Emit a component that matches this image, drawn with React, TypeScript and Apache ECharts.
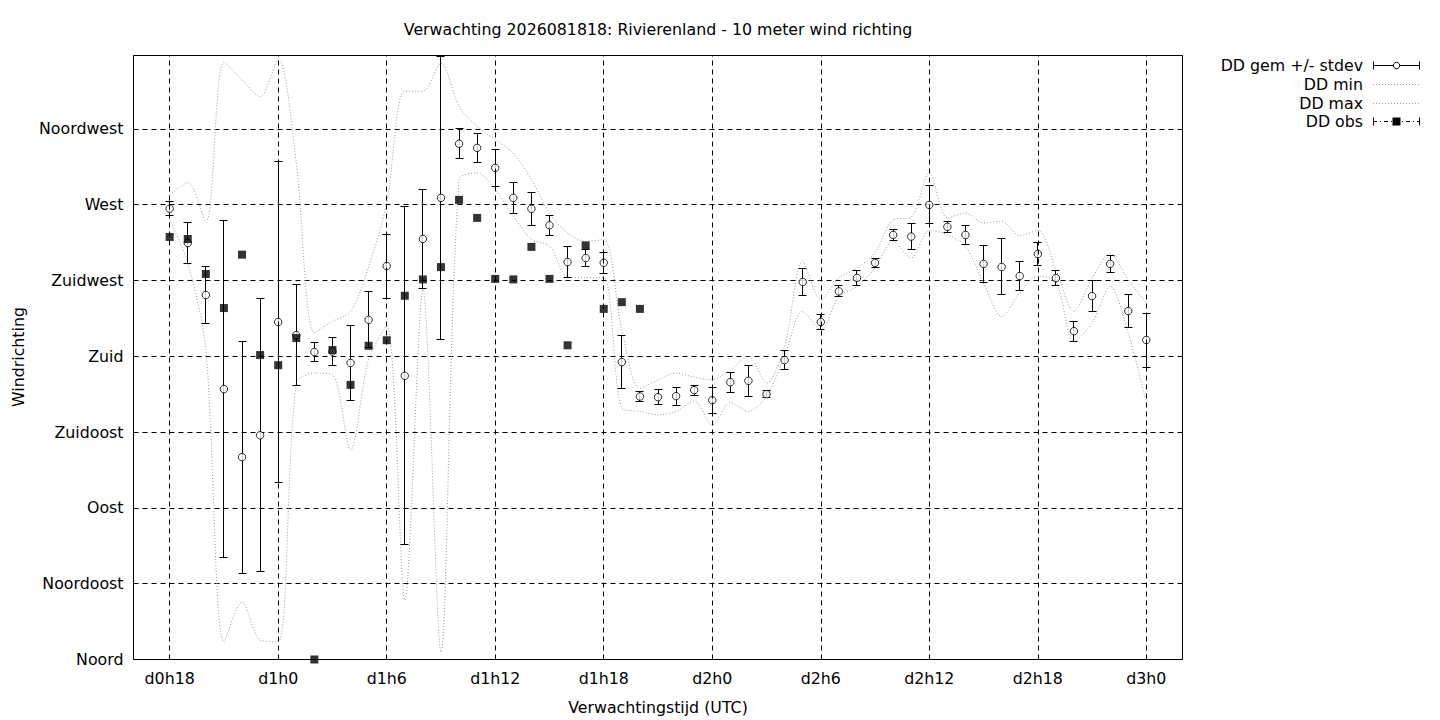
import React, { useEffect, useRef } from "react";
import * as echarts from "echarts";

// Forecast hours (hours after d0h0)
const HOURS = [
  18, 19, 20, 21, 22, 23, 24, 25, 26, 27, 28, 29, 30, 31, 32, 33, 34, 35, 36,
  37, 38, 39, 40, 41, 42, 43, 44, 45, 46, 47, 48, 49, 50, 51, 52, 53, 54, 55,
  56, 57, 58, 59, 60, 61, 62, 63, 64, 65, 66, 67, 68, 69, 70, 71, 72,
];

// Ensemble mean wind direction (degrees)
const DD_MEAN = [
  267.6, 247.2, 216.3, 160.5, 120.1, 133.1, 200.3, 192.5, 182.5, 182.8, 176.0,
  201.6, 233.5, 168.4, 249.6, 274.0, 306.1, 303.7, 291.8, 274.0, 267.5, 257.7,
  235.9, 238.3, 235.5, 176.5, 156.1, 155.7, 156.3, 159.9, 153.9, 164.6, 165.4,
  157.5, 177.7, 224.1, 200.3, 218.5, 226.5, 235.4, 252.0, 251.0, 269.8, 256.8,
  252.0, 234.8, 233.0, 227.6, 240.7, 226.4, 194.9, 215.7, 234.8, 206.8, 189.6,
];

// Ensemble standard deviation (degrees)
const DD_STDEV = [
  4.0, 11.9, 17.0, 100.2, 68.9, 80.9, 95.1, 30.0, 5.6, 8.2, 22.0, 16.7, 19.0,
  100.4, 29.2, 83.8, 9.0, 8.6, 11.2, 9.4, 9.9, 6.0, 9.4, 5.1, 6.3, 15.8, 2.8,
  4.5, 5.4, 3.0, 7.8, 6.0, 9.3, 1.9, 5.6, 7.8, 4.5, 3.3, 4.3, 2.9, 3.5, 7.5,
  11.3, 3.4, 5.8, 10.9, 16.6, 8.8, 7.1, 4.5, 5.9, 9.1, 5.0, 9.7, 16.0,
];

// Ensemble minimum direction
const DD_MIN = [
  261.0, 235.4, 184.0, 10.5, 34.2, 11.5, 10.5, 164.0, 170.0, 169.0, 124.4,
  178.0, 198.0, 35.2, 219.5, 4.5, 284.9, 288.8, 279.0, 263.2, 249.4, 245.4,
  227.2, 226.6, 226.6, 149.2, 147.2, 145.2, 147.2, 153.5, 139.3, 152.5, 147.2,
  156.1, 179.9, 206.6, 195.9, 215.5, 221.4, 232.4, 248.2, 238.3, 254.6, 252.2,
  245.2, 223.5, 203.6, 217.5, 227.4, 224.4, 188.8, 199.7, 221.5, 193.8, 152.2,
];

// Ensemble maximum direction
const DD_MAX = [
  276.0, 283.0, 259.5, 354.6, 344.0, 334.0, 356.6, 295.0, 194.0, 200.7, 206.6,
  233.0, 271.0, 337.4, 337.4, 354.0, 328.4, 316.5, 308.6, 300.6, 284.9, 265.1,
  253.2, 248.2, 249.2, 195.7, 161.0, 166.0, 170.0, 167.6, 166.0, 172.0, 179.9,
  164.0, 185.8, 236.3, 213.5, 226.5, 232.4, 241.3, 261.1, 262.5, 288.9, 262.1,
  265.0, 259.1, 260.1, 251.6, 254.7, 231.4, 206.6, 226.4, 240.9, 225.4, 211.6,
];

// Observations (hours 18..44)
const OBS_HOURS = [
  18, 19, 20, 21, 22, 23, 24, 25, 26, 27, 28, 29, 30, 31, 32, 33, 34, 35, 36,
  37, 38, 39, 40, 41, 42, 43, 44,
];
const DD_OBS = [
  250.8, 249.6, 228.8, 208.6, 240.3, 180.7, 174.7, 190.8, 0.0, 183.7, 163.0,
  186.2, 189.5, 215.9, 225.6, 232.9, 272.8, 262.1, 225.9, 225.6, 244.9, 225.9,
  186.5, 245.8, 208.1, 212.1, 208.1,
];

// Axis ticks
const X_GRID_HOURS = [18, 24, 30, 36, 42, 48, 54, 60, 66, 72];
const DIR_TICKS = [0, 45, 90, 135, 180, 225, 270, 315];
const DIR_LABELS = [
  "Noord",
  "Noordoost",
  "Oost",
  "Zuidoost",
  "Zuid",
  "Zuidwest",
  "West",
  "Noordwest",
];

const TITLE = "Verwachting 2026081818: Rivierenland - 10 meter wind richting";
const X_NAME = "Verwachtingstijd (UTC)";
const Y_NAME = "Windrichting";
const LEGEND_NAMES = ["DD gem +/- stdev", "DD min", "DD max", "DD obs"];

const X_MIN = 16;
const X_MAX = 74;
const Y_MIN = 0;
const Y_MAX = 358.5;

const FONT = "DejaVu Sans";
const FS = 15.8;

export default function App() {
  const ref = useRef<HTMLDivElement>(null);

  useEffect(() => {
    if (!ref.current) return;
    const chart = echarts.init(ref.current, undefined, { renderer: "svg" });

    const meanData = HOURS.map((h, i) => [h, DD_MEAN[i]]);
    const errData = HOURS.map((h, i) => [
      h,
      DD_MEAN[i] - DD_STDEV[i],
      DD_MEAN[i] + DD_STDEV[i],
    ]);
    const minData = HOURS.map((h, i) => [h, DD_MIN[i]]);
    const maxData = HOURS.map((h, i) => [h, DD_MAX[i]]);
    const obsData = OBS_HOURS.map((h, i) => [h, DD_OBS[i]]);

    const dirLabel = (v: number) => {
      const idx = DIR_TICKS.indexOf(Math.round(v));
      return idx >= 0 && Math.abs(v - DIR_TICKS[idx]) < 1e-6 ? DIR_LABELS[idx] : "";
    };
    const hourLabel = (v: number) => {
      if (X_GRID_HOURS.indexOf(v) < 0) return "";
      return "d" + Math.floor(v / 24) + "h" + (v % 24);
    };

    const dotted = { color: "#9a9a9a", width: 1, type: [1, 2] as any };

    const legendX0 = 1373;
    const legendX1 = 1420;
    const legendXm = 1396.5;
    const rowY = [65.5, 84.5, 103.5, 121.5];

    const gl = 133.5;
    const gt = 55.5;
    const gr = 1182.5;
    const gb = 659.5;

    const crisp = (v: number) => Math.round(v - 0.5) + 0.5;

    const option: any = {
      animation: false,
      backgroundColor: "#ffffff",
      textStyle: { fontFamily: FONT },
      grid: {
        left: gl,
        top: gt,
        right: 1440 - gr,
        bottom: 720 - gb,
        show: false,
      },
      xAxis: {
        type: "value",
        min: X_MIN,
        max: X_MAX,
        interval: 2,
        axisLine: { show: false },
        axisTick: { show: false },
        splitLine: { show: false },
        axisLabel: {
          interval: 0,
          margin: 11,
          color: "#000",
          fontFamily: FONT,
          fontSize: FS,
          formatter: hourLabel,
        },
      },
      yAxis: {
        type: "value",
        min: Y_MIN,
        max: Y_MAX,
        interval: 45,
        axisLine: { show: false },
        axisTick: { show: false },
        splitLine: {
          show: true,
          lineStyle: { color: "#000", width: 1, type: [5, 4] },
        },
        axisLabel: {
          margin: 10,
          color: "#000",
          fontFamily: FONT,
          fontSize: FS,
          formatter: dirLabel,
          showMaxLabel: false,
        },
      },
      graphic: [
        {
          type: "rect",
          z: 100,
          silent: true,
          shape: { x: gl, y: gt, width: gr - gl, height: gb - gt },
          style: { fill: "none", stroke: "#000", lineWidth: 1 },
        },
        {
          type: "text",
          x: 658,
          y: 29,
          style: {
            text: TITLE,
            fill: "#000",
            font: `${FS}px "${FONT}"`,
            textAlign: "center",
            textVerticalAlign: "middle",
          },
        },
        {
          type: "text",
          x: 658,
          y: 707,
          style: {
            text: X_NAME,
            fill: "#000",
            font: `${FS}px "${FONT}"`,
            textAlign: "center",
            textVerticalAlign: "middle",
          },
        },
        {
          type: "text",
          x: 18,
          y: 357,
          rotation: Math.PI / 2,
          style: {
            text: Y_NAME,
            fill: "#000",
            font: `${FS}px "${FONT}"`,
            textAlign: "center",
            textVerticalAlign: "middle",
          },
        },
        // Legend texts
        ...LEGEND_NAMES.map((n, i) => ({
          type: "text",
          x: 1363,
          y: rowY[i],
          style: {
            text: n,
            fill: "#000",
            font: `${FS}px "${FONT}"`,
            textAlign: "right",
            textVerticalAlign: "middle",
          },
        })),
        // Legend sample: mean +/- stdev
        {
          type: "line",
          shape: { x1: legendX0, y1: rowY[0], x2: legendX1, y2: rowY[0] },
          style: { stroke: "#000", lineWidth: 1 },
        },
        {
          type: "line",
          shape: { x1: legendX0 + 0.5, y1: rowY[0] - 4, x2: legendX0 + 0.5, y2: rowY[0] + 4 },
          style: { stroke: "#000", lineWidth: 1 },
        },
        {
          type: "line",
          shape: { x1: legendX1 - 0.5, y1: rowY[0] - 4, x2: legendX1 - 0.5, y2: rowY[0] + 4 },
          style: { stroke: "#000", lineWidth: 1 },
        },
        {
          type: "circle",
          shape: { cx: legendXm, cy: rowY[0], r: 3.2 },
          style: { fill: "#fff", stroke: "#000", lineWidth: 1 },
        },
        // Legend sample: min, max
        {
          type: "line",
          shape: { x1: legendX0, y1: rowY[1], x2: legendX1, y2: rowY[1] },
          style: { stroke: "#9a9a9a", lineWidth: 1, lineDash: [1, 2] },
        },
        {
          type: "line",
          shape: { x1: legendX0, y1: rowY[2], x2: legendX1, y2: rowY[2] },
          style: { stroke: "#9a9a9a", lineWidth: 1, lineDash: [1, 2] },
        },
        // Legend sample: obs
        {
          type: "line",
          shape: { x1: legendX0, y1: rowY[3], x2: legendX1, y2: rowY[3] },
          style: { stroke: "#000", lineWidth: 1, lineDash: [4, 3, 1, 3] },
        },
        {
          type: "line",
          shape: { x1: legendX0 + 0.5, y1: rowY[3] - 4, x2: legendX0 + 0.5, y2: rowY[3] + 4 },
          style: { stroke: "#000", lineWidth: 1 },
        },
        {
          type: "line",
          shape: { x1: legendX1 - 0.5, y1: rowY[3] - 4, x2: legendX1 - 0.5, y2: rowY[3] + 4 },
          style: { stroke: "#000", lineWidth: 1 },
        },
        {
          type: "rect",
          shape: { x: legendXm - 4, y: rowY[3] - 4, width: 8, height: 8 },
          style: { fill: "#000" },
        },
      ],
      series: [
        {
          name: "DD min",
          type: "line",
          data: minData,
          showSymbol: false,
          symbol: "none",
          smooth: 0.3,
          lineStyle: dotted,
          z: 1,
          markLine: {
            silent: true,
            symbol: "none",
            label: { show: false },
            lineStyle: { color: "#000", width: 1, type: [5, 4] },
            data: X_GRID_HOURS.map((h) => ({ xAxis: h })),
          },
        },
        {
          name: "DD max",
          type: "line",
          data: maxData,
          showSymbol: false,
          symbol: "none",
          smooth: 0.3,
          lineStyle: dotted,
          z: 1,
        },
        {
          name: "DD stdev",
          type: "custom",
          data: errData,
          z: 3,
          renderItem: (params: any, api: any) => {
            const x = api.value(0);
            const lo = Math.max(api.value(1), Y_MIN);
            const hi = Math.min(api.value(2), Y_MAX);
            const pLo = api.coord([x, lo]);
            const pHi = api.coord([x, hi]);
            const cx = crisp(pLo[0]);
            const yLo = crisp(pLo[1]);
            const yHi = crisp(pHi[1]);
            const w = 4;
            const st = { stroke: "#000", lineWidth: 1, fill: "none" };
            const children: any[] = [
              {
                type: "line",
                shape: { x1: cx, y1: yLo, x2: cx, y2: yHi },
                style: st,
              },
              {
                type: "line",
                shape: { x1: cx - w, y1: yLo, x2: cx + w, y2: yLo },
                style: st,
              },
            ];
            if (api.value(2) <= Y_MAX) {
              children.push({
                type: "line",
                shape: { x1: cx - w, y1: yHi, x2: cx + w, y2: yHi },
                style: st,
              });
            }
            return { type: "group", children };
          },
        },
        {
          name: "DD gem +/- stdev",
          type: "scatter",
          data: meanData,
          symbol: "circle",
          symbolSize: 7.5,
          itemStyle: { color: "#fff", borderColor: "#000", borderWidth: 1 },
          z: 4,
        },
        {
          name: "DD obs",
          type: "scatter",
          data: obsData,
          symbol: "rect",
          symbolSize: 8,
          itemStyle: { color: "#000" },
          z: 5,
        },
      ],
    };

    chart.setOption(option);
    return () => {
      chart.dispose();
    };
  }, []);

  return (
    <div
      ref={ref}
      style={{
        position: "absolute",
        left: 0,
        top: 0,
        width: 1440,
        height: 720,
        background: "#fff",
      }}
    />
  );
}
